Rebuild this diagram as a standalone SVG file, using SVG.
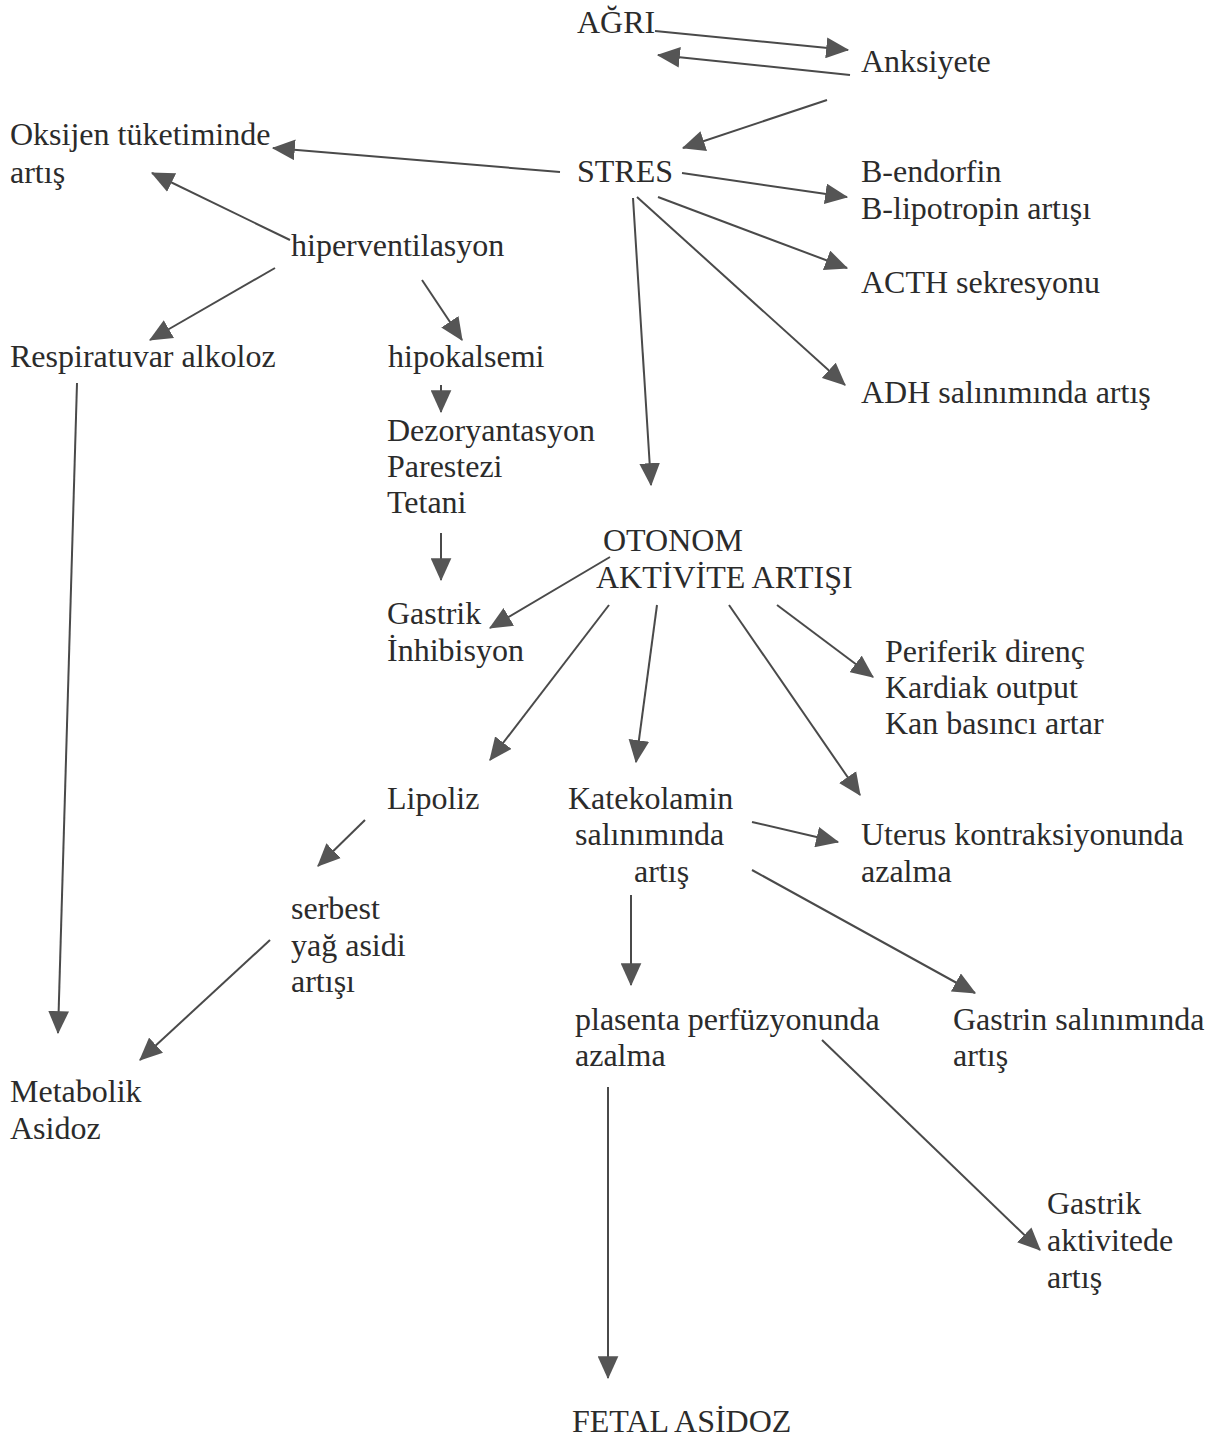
<svg xmlns="http://www.w3.org/2000/svg" width="1224" height="1443" viewBox="0 0 1224 1443">
<style>
text{font-family:"Liberation Serif","Times New Roman",serif;font-size:32px;fill:#2b2b2b}
.c line{stroke:#4a4a4a;stroke-width:2;marker-end:url(#ah)}
</style>
<defs>
<marker id="ah" viewBox="0 0 20 18" refX="19" refY="9" markerWidth="23" markerHeight="21" markerUnits="userSpaceOnUse" orient="auto">
<path d="M0,0 L20,9 L0,18 z" fill="#555"/>
</marker>
</defs>
<rect width="1224" height="1443" fill="#fff"/>
<g id="n-agri"><text x="577" y="33">AĞRI</text></g>
<g id="n-anksiyete"><text x="861" y="72">Anksiyete</text></g>
<g id="n-oksijen"><text x="10" y="145">Oksijen tüketiminde</text><text x="10" y="183">artış</text></g>
<g id="n-stres"><text x="577" y="182">STRES</text></g>
<g id="n-bendorfin"><text x="861" y="182">B-endorfin</text><text x="861" y="219">B-lipotropin artışı</text></g>
<g id="n-hiper"><text x="291" y="256">hiperventilasyon</text></g>
<g id="n-acth"><text x="861" y="293">ACTH sekresyonu</text></g>
<g id="n-resp"><text x="10" y="367">Respiratuvar alkoloz</text></g>
<g id="n-hipok"><text x="388" y="367">hipokalsemi</text></g>
<g id="n-adh"><text x="861" y="403">ADH salınımında artış</text></g>
<g id="n-dezor"><text x="387" y="441">Dezoryantasyon</text><text x="387" y="477">Parestezi</text><text x="387" y="513">Tetani</text></g>
<g id="n-otonom"><text x="603" y="551">OTONOM</text><text x="596" y="588">AKTİVİTE ARTIŞI</text></g>
<g id="n-gastrik-inh"><text x="387" y="624">Gastrik</text><text x="387" y="661">İnhibisyon</text></g>
<g id="n-periferik"><text x="885" y="662">Periferik direnç</text><text x="885" y="698">Kardiak output</text><text x="885" y="734">Kan basıncı artar</text></g>
<g id="n-lipoliz"><text x="387" y="809">Lipoliz</text></g>
<g id="n-katekol"><text x="568" y="809">Katekolamin</text><text x="575" y="845">salınımında</text><text x="634" y="882">artış</text></g>
<g id="n-uterus"><text x="861" y="845">Uterus kontraksiyonunda</text><text x="861" y="882">azalma</text></g>
<g id="n-serbest"><text x="291" y="919">serbest</text><text x="291" y="956">yağ asidi</text><text x="291" y="992">artışı</text></g>
<g id="n-plasenta"><text x="575" y="1030">plasenta perfüzyonunda</text><text x="575" y="1066">azalma</text></g>
<g id="n-gastrin"><text x="953" y="1030">Gastrin salınımında</text><text x="953" y="1066">artış</text></g>
<g id="n-metabolik"><text x="10" y="1102">Metabolik</text><text x="10" y="1139">Asidoz</text></g>
<g id="n-gastrik-akt"><text x="1047" y="1214">Gastrik</text><text x="1047" y="1251">aktivitede</text><text x="1047" y="1288">artış</text></g>
<g id="n-fetal"><text x="572" y="1432">FETAL ASİDOZ</text></g>
<g id="connectors" class="c">
<line x1="655" y1="31" x2="848" y2="50"/>
<line x1="850" y1="75" x2="658" y2="55"/>
<line x1="827" y1="100" x2="683" y2="148"/>
<line x1="560" y1="172" x2="273" y2="148"/>
<line x1="290" y1="240" x2="152" y2="173"/>
<line x1="275" y1="268" x2="150" y2="340"/>
<line x1="422" y1="280" x2="462" y2="340"/>
<line x1="682" y1="173" x2="847" y2="197"/>
<line x1="658" y1="197" x2="847" y2="268"/>
<line x1="637" y1="197" x2="845" y2="385"/>
<line x1="633" y1="198" x2="651" y2="485"/>
<line x1="441" y1="385" x2="441" y2="412"/>
<line x1="441" y1="533" x2="441" y2="580"/>
<line x1="610" y1="557" x2="490" y2="628"/>
<line x1="609" y1="605" x2="490" y2="760"/>
<line x1="657" y1="605" x2="636" y2="762"/>
<line x1="729" y1="605" x2="860" y2="795"/>
<line x1="777" y1="605" x2="873" y2="677"/>
<line x1="365" y1="820" x2="318" y2="866"/>
<line x1="752" y1="822" x2="838" y2="842"/>
<line x1="752" y1="870" x2="975" y2="993"/>
<line x1="631" y1="895" x2="631" y2="985"/>
<line x1="822" y1="1040" x2="1040" y2="1250"/>
<line x1="608" y1="1087" x2="608" y2="1378"/>
<line x1="77" y1="383" x2="58" y2="1033"/>
<line x1="270" y1="940" x2="140" y2="1060"/>
</g>
</svg>
